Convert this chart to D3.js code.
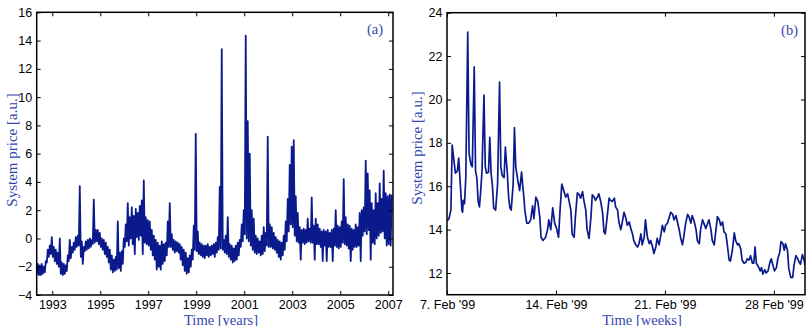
<!DOCTYPE html>
<html>
<head>
<meta charset="utf-8">
<script src="https://d3js.org/d3.v7.min.js"></script>
<style>
  body { margin: 0; background: #fff; }
  svg { display: block; }
</style>
</head>
<body>
<svg id="chart" width="806" height="326"></svg>
<script>
// ---- panel (a): monthly low / high of the system price, May 1992 .. Feb 2007
const firstMonth = 1992 + 4 / 12;
const monthLow = [
  -2.5, -2.6, -2.6, -2.5, -2.4, -1.7, -1.3, -1.1,                          // 1992 May-Dec
  -1.3, -1.6, -1.8, -2.0, -2.5, -2.6, -2.5, -2.3, -1.6, -1.4, -1.0, -0.8,  // 1993
  -0.6, -0.5, -1.3, -1.8, -0.9, -0.8, -0.7, -0.6, -0.4, -0.3, -0.2, -0.4,  // 1994
  -0.6, -0.8, -1.1, -1.3, -1.7, -2.2, -2.4, -2.3, -2.2, -2.1, -2.3, -1.8,  // 1995
  -0.6, -0.2, -0.5, 0.0, -0.4, -1.1, 0.1, -0.1, 0.2, -1.1, -0.3, -0.4,     // 1996
  -0.5, -0.8, -1.2, -1.5, -2.2, -2.0, -2.2, -1.8, -1.6, -1.2, -0.6, -0.6,  // 1997
  -0.8, -1.0, -0.9, -1.0, -1.5, -1.9, -2.3, -2.5, -2.4, -2.0, -1.5, -0.8,  // 1998
  -0.9, -1.1, -1.2, -1.3, -1.4, -1.2, -1.3, -1.2, -1.1, -1.3, -1.0, -0.8,  // 1999
  -0.7, -0.8, -1.0, -1.1, -1.3, -1.5, -1.7, -1.6, -1.5, -1.2, -0.6, -0.2,  // 2000
  0.3, 0.0, -0.2, -0.5, -0.8, -1.0, -1.1, -1.0, -1.2, -1.1, -0.9, -0.5,    // 2001
  -0.6, -0.6, -0.7, -0.8, -1.0, -1.3, -1.5, -1.2, -0.8, -0.2, 0.5, 1.0,    // 2002
  0.8, 0.2, -0.2, -0.3, -1.5, -0.3, -0.4, -0.3, -0.2, -0.3, -0.3, -1.5,    // 2003
  -0.4, -0.4, -0.6, -1.6, -0.5, -1.6, -0.6, -0.6, -1.6, -0.5, -0.6, -0.7,  // 2004
  -0.6, -0.3, -0.4, -0.5, -0.7, -1.6, -0.8, -0.6, -0.6, -0.5, -1.6, 0.2,   // 2005
  0.5, 0.3, 0.6, -1.5, -0.3, -0.4, 0.0, 0.2, 0.4, 0.5, 0.0, -0.5,          // 2006
  -0.4, -0.5                                                               // 2007 Jan-Feb
];
const monthHigh = [
  -1.8, -1.9, -1.8, -2.0, -1.6, -0.8, -0.5, 0.1,
  -0.6, -0.8, -1.0, 0.0, -1.7, -1.8, -1.9, -1.2, -0.1, -0.6, -0.3, 0.1,
  0.2, 3.7, -0.2, -0.6, -0.2, -0.1, 0.0, -0.1, 2.75, 0.6, 0.6, 0.4,
  0.0, -0.1, -0.3, -0.6, -0.8, -1.2, -1.5, -1.3, 1.2, -1.0, -0.9, 0.0,
  1.0, 2.5, 1.5, 2.2, 1.6, 2.1, 1.8, 2.3, 2.7, 4.1, 1.5, 1.3,
  1.2, 0.6, 0.2, -0.1, -0.3, -0.5, -0.2, -0.4, -0.3, 1.2, 2.5, 0.3,
  -0.1, -0.2, -0.3, -0.4, -0.6, -0.8, -1.0, -1.4, -1.2, -0.8, 0.9, 7.4,
  0.5, -0.3, -0.4, -0.5, -0.5, -0.4, -0.6, -0.5, -0.4, -0.3, 0.1, 3.65,
  13.4, -0.1, 0.2, 1.5, -0.4, -0.5, -0.7, -0.5, -0.3, -0.1, 1.0, 2.0,
  14.35, 8.3, 6.0, 2.0, 1.4, 0.2, 0.0, -0.2, 0.2, 0.8, 0.4, 7.2,
  1.0, 0.8, 0.4, 0.1, -0.1, -0.2, -0.3, 0.2, 1.2, 2.8, 5.2, 6.5,
  6.95, 3.0, 1.8, 0.8, 0.6, 0.7, 0.6, 1.4, 0.7, 2.9, 0.9, 1.4,
  1.0, 0.7, 0.5, 0.6, 0.5, 0.6, 0.4, 0.6, 0.7, 2.0, 0.9, 0.8,
  1.2, 4.2, 1.5, 1.0, 0.9, 0.7, 0.6, 1.0, 0.8, 1.8, 2.0, 2.2,
  5.5, 4.6, 3.4, 2.5, 2.0, 3.2, 2.5, 3.9, 2.8, 4.8, 3.2, 3.0,
  3.1, 3.1
];
const yearTicks = [1993, 1995, 1997, 1999, 2001, 2003, 2005, 2007];
const priceTicksA = [-4, -2, 0, 2, 4, 6, 8, 10, 12, 14, 16];

// ---- panel (b): hourly system price, hours counted from 7 Feb 1999 00:00
const hoursB = [
  0, 3, 6, 8, 11, 13, 16, 18, 20, 23, 24, 25, 27, 29, 32, 34, 37, 39, 42, 44,
  46, 48, 50, 52, 54, 57, 59, 61, 64, 66, 68, 70, 72, 75, 78, 81, 83, 85, 88, 90,
  93, 95, 97, 99, 102, 104, 106, 109, 112, 115, 117, 119, 120, 123, 126, 129, 132, 134, 137, 140,
  143, 145, 148, 152, 155, 157, 160, 163, 166, 169, 172, 174, 177, 180, 183, 186, 188, 191, 193, 196,
  198, 201, 204, 206, 209, 211, 214, 216, 219, 222, 224, 227, 229, 232, 234, 237, 240, 242, 244, 247,
  250, 252, 255, 258, 260, 263, 265, 268, 270, 273, 276, 278, 281, 283, 286, 288, 291, 294, 296, 299,
  301, 304, 306, 309, 312, 314, 317, 319, 322, 324, 327, 330, 332, 335, 337, 340, 342, 345, 348, 350,
  353, 355, 358, 360, 363, 365, 368, 371, 373, 376, 378, 381, 384, 386, 389, 391, 394, 396, 399, 402,
  404, 407, 409, 412, 414, 417, 420, 422, 425, 427, 430, 432, 435, 437, 440, 443, 445, 448, 450, 453,
  455, 458, 461, 463, 466, 468, 471, 473, 475, 477, 480, 483, 485, 487, 490, 492, 495, 498, 500, 503,
  505, 508, 510, 513, 515, 518, 520, 522, 525, 527, 530, 533, 535, 538, 540, 543, 545, 548, 551, 552
];
const priceB = [
  14.4, 14.5, 14.9, 17.9, 17.1, 16.6, 16.7, 17.3, 16.35, 14.9, 14.8, 15.35, 15.2, 16.4, 23.1, 17.5, 17.0, 16.9, 21.5, 16.7,
  16.4, 15.3, 15.05, 15.8, 16.7, 20.2, 16.9, 16.6, 16.65, 18.25, 16.6, 16.05, 15.0, 14.9, 16.1, 20.8, 16.9, 16.5, 16.4, 17.8,
  16.6, 15.5, 15.0, 14.9, 16.1, 18.7, 16.9, 16.3, 15.8, 16.65, 15.95, 15.35, 14.9, 14.3, 14.3, 14.45, 15.1, 14.5, 15.5, 15.3,
  14.6, 13.65, 13.5, 13.65, 14.0, 14.45, 14.0, 15.0, 14.3, 14.05, 13.65, 14.75, 16.1, 15.8, 15.5, 15.65, 15.35, 14.9, 13.8, 13.65,
  14.6, 15.7, 15.6, 15.45, 15.75, 15.35, 14.9, 14.0, 13.6, 14.6, 15.6, 15.5, 15.35, 15.5, 15.65, 15.3, 14.75, 13.9, 13.8, 14.6,
  15.45, 15.35, 15.3, 15.45, 15.05, 14.9, 14.35, 14.0, 14.3, 14.8, 14.5, 14.2, 14.35, 14.1, 13.8, 13.5, 13.3, 13.2, 13.35, 13.8,
  13.3, 13.65, 14.45, 13.65, 13.35, 13.5, 13.2, 12.9, 13.2, 13.6, 13.3, 13.8, 14.2, 13.9, 14.2, 14.3, 14.5, 14.8, 14.7, 14.45,
  14.65, 14.4, 14.0, 13.65, 13.3, 13.65, 14.3, 14.7, 14.6, 14.3, 14.65, 14.4, 14.0, 13.5, 13.35, 14.0, 14.45, 14.3, 14.05, 14.3,
  14.45, 14.0, 13.5, 13.3, 13.8, 14.6, 14.45, 14.2, 14.35, 13.9, 13.8, 13.35, 12.6, 12.55, 13.05, 13.85, 13.5, 13.3, 13.35, 13.1,
  12.6, 12.45, 12.5, 12.65, 12.6, 12.8, 12.45, 12.45, 13.2, 12.45, 12.3, 12.1, 12.25, 11.95, 12.15, 12.0, 12.1, 12.5, 12.65, 12.3,
  12.1, 12.25, 12.65, 12.95, 13.45, 13.35, 13.05, 13.35, 13.05, 12.2, 11.8, 11.8, 12.35, 12.8, 12.7, 12.5, 12.4, 12.85, 12.55, 12.35
];
const weekTicks = [new Date(1999, 1, 7), new Date(1999, 1, 14), new Date(1999, 1, 21), new Date(1999, 1, 28)];
const weekLabels = ["7. Feb '99", "14. Feb '99", "21. Feb '99", "28 Feb '99"];
const priceTicksB = [12, 14, 16, 18, 20, 22, 24];

const lineColor = "#0a1a8c";
const labelColor = "#3446b0";
const serif = "'Liberation Serif', 'Times New Roman', serif";
const sans = "'Liberation Sans', Arial, sans-serif";

const svg = d3.select("#chart");

function drawPanel(p) {
  const g = svg.append("g");
  const clipId = "clip-" + p.name;

  g.append("clipPath").attr("id", clipId)
    .append("rect")
    .attr("x", p.left).attr("y", p.top)
    .attr("width", p.right - p.left).attr("height", p.bottom - p.top);

  g.append("path")
    .datum(p.points)
    .attr("clip-path", `url(#${clipId})`)
    .attr("fill", "none")
    .attr("stroke", lineColor)
    .attr("stroke-width", p.lineWidth)
    .attr("stroke-linejoin", "round")
    .attr("d", d3.line().x(d => p.x(d[0])).y(d => p.y(d[1])));

  // inward ticks on all four sides, labels only left and bottom
  const bottom = g.append("g").attr("transform", `translate(0,${p.bottom})`)
    .call(d3.axisBottom(p.x).tickValues(p.xTicks).tickFormat(p.xFormat)
      .tickSize(-4).tickPadding(5.5));
  const top = g.append("g").attr("transform", `translate(0,${p.top})`)
    .call(d3.axisTop(p.x).tickValues(p.xTicks).tickFormat("").tickSize(-4));
  const left = g.append("g").attr("transform", `translate(${p.left},0)`)
    .call(d3.axisLeft(p.y).tickValues(p.yTicks).tickSize(-4).tickPadding(4.5));
  const right = g.append("g").attr("transform", `translate(${p.right},0)`)
    .call(d3.axisRight(p.y).tickValues(p.yTicks).tickFormat("").tickSize(-4));

  [bottom, top, left, right].forEach(a => {
    a.select(".domain").remove();
    a.selectAll(".tick line").attr("stroke", "#000").attr("stroke-width", 1);
    a.selectAll(".tick text").attr("fill", "#000").style("font-family", sans).style("font-size", "12.5px");
  });

  g.append("rect")
    .attr("x", p.left).attr("y", p.top)
    .attr("width", p.right - p.left).attr("height", p.bottom - p.top)
    .attr("fill", "none").attr("stroke", "#000").attr("stroke-width", 1.5);

  g.append("text")
    .attr("transform", `translate(${p.yTitleX},${p.yTitleY}) rotate(-90)`)
    .attr("text-anchor", "middle")
    .attr("fill", labelColor)
    .style("font-family", serif).style("font-size", "15px")
    .text("System price [a.u.]");

  g.append("text")
    .attr("x", p.xTitleX).attr("y", 324.5)
    .attr("text-anchor", "middle")
    .attr("fill", labelColor)
    .style("font-family", serif).style("font-size", "14.5px")
    .text(p.xTitle);

  g.append("text")
    .attr("x", p.tagX).attr("y", p.tagY)
    .attr("text-anchor", "end")
    .attr("fill", labelColor)
    .style("font-family", serif).style("font-size", "14.5px")
    .text(p.tag);
}

// panel (a)
const pointsA = [];
monthLow.forEach((lo, i) => {
  pointsA.push([firstMonth + (i + 0.25) / 12, lo]);
  pointsA.push([firstMonth + (i + 0.75) / 12, monthHigh[i]]);
});

drawPanel({
  name: "a",
  left: 36.7, right: 393, top: 12.3, bottom: 295,
  x: d3.scaleLinear().domain([1992.35, 2007.2]).range([36.7, 393]),
  y: d3.scaleLinear().domain([-4, 16]).range([295, 12.3]),
  points: pointsA,
  lineWidth: 1.8,
  xTicks: yearTicks, xFormat: d3.format("d"),
  yTicks: priceTicksA,
  yTitleX: 17, yTitleY: 150,
  xTitle: "Time [years]", xTitleX: 221,
  tag: "(a)", tagX: 383, tagY: 34
});

// panel (b)
const startB = new Date(1999, 1, 7);
const pointsB = hoursB.map((h, i) => [d3.timeHour.offset(startB, h), priceB[i]]);

drawPanel({
  name: "b",
  left: 447, right: 805, top: 12.7, bottom: 294.7,
  x: d3.scaleTime().domain([startB, new Date(1999, 2, 2)]).range([447, 805]),
  y: d3.scaleLinear().domain([11, 24]).range([294.7, 12.7]),
  points: pointsB,
  lineWidth: 1.7,
  xTicks: weekTicks, xFormat: (d, i) => weekLabels[i],
  yTicks: priceTicksB,
  yTitleX: 422, yTitleY: 148,
  xTitle: "Time [weeks]", xTitleX: 642,
  tag: "(b)", tagX: 798, tagY: 35
});
</script>
</body>
</html>
